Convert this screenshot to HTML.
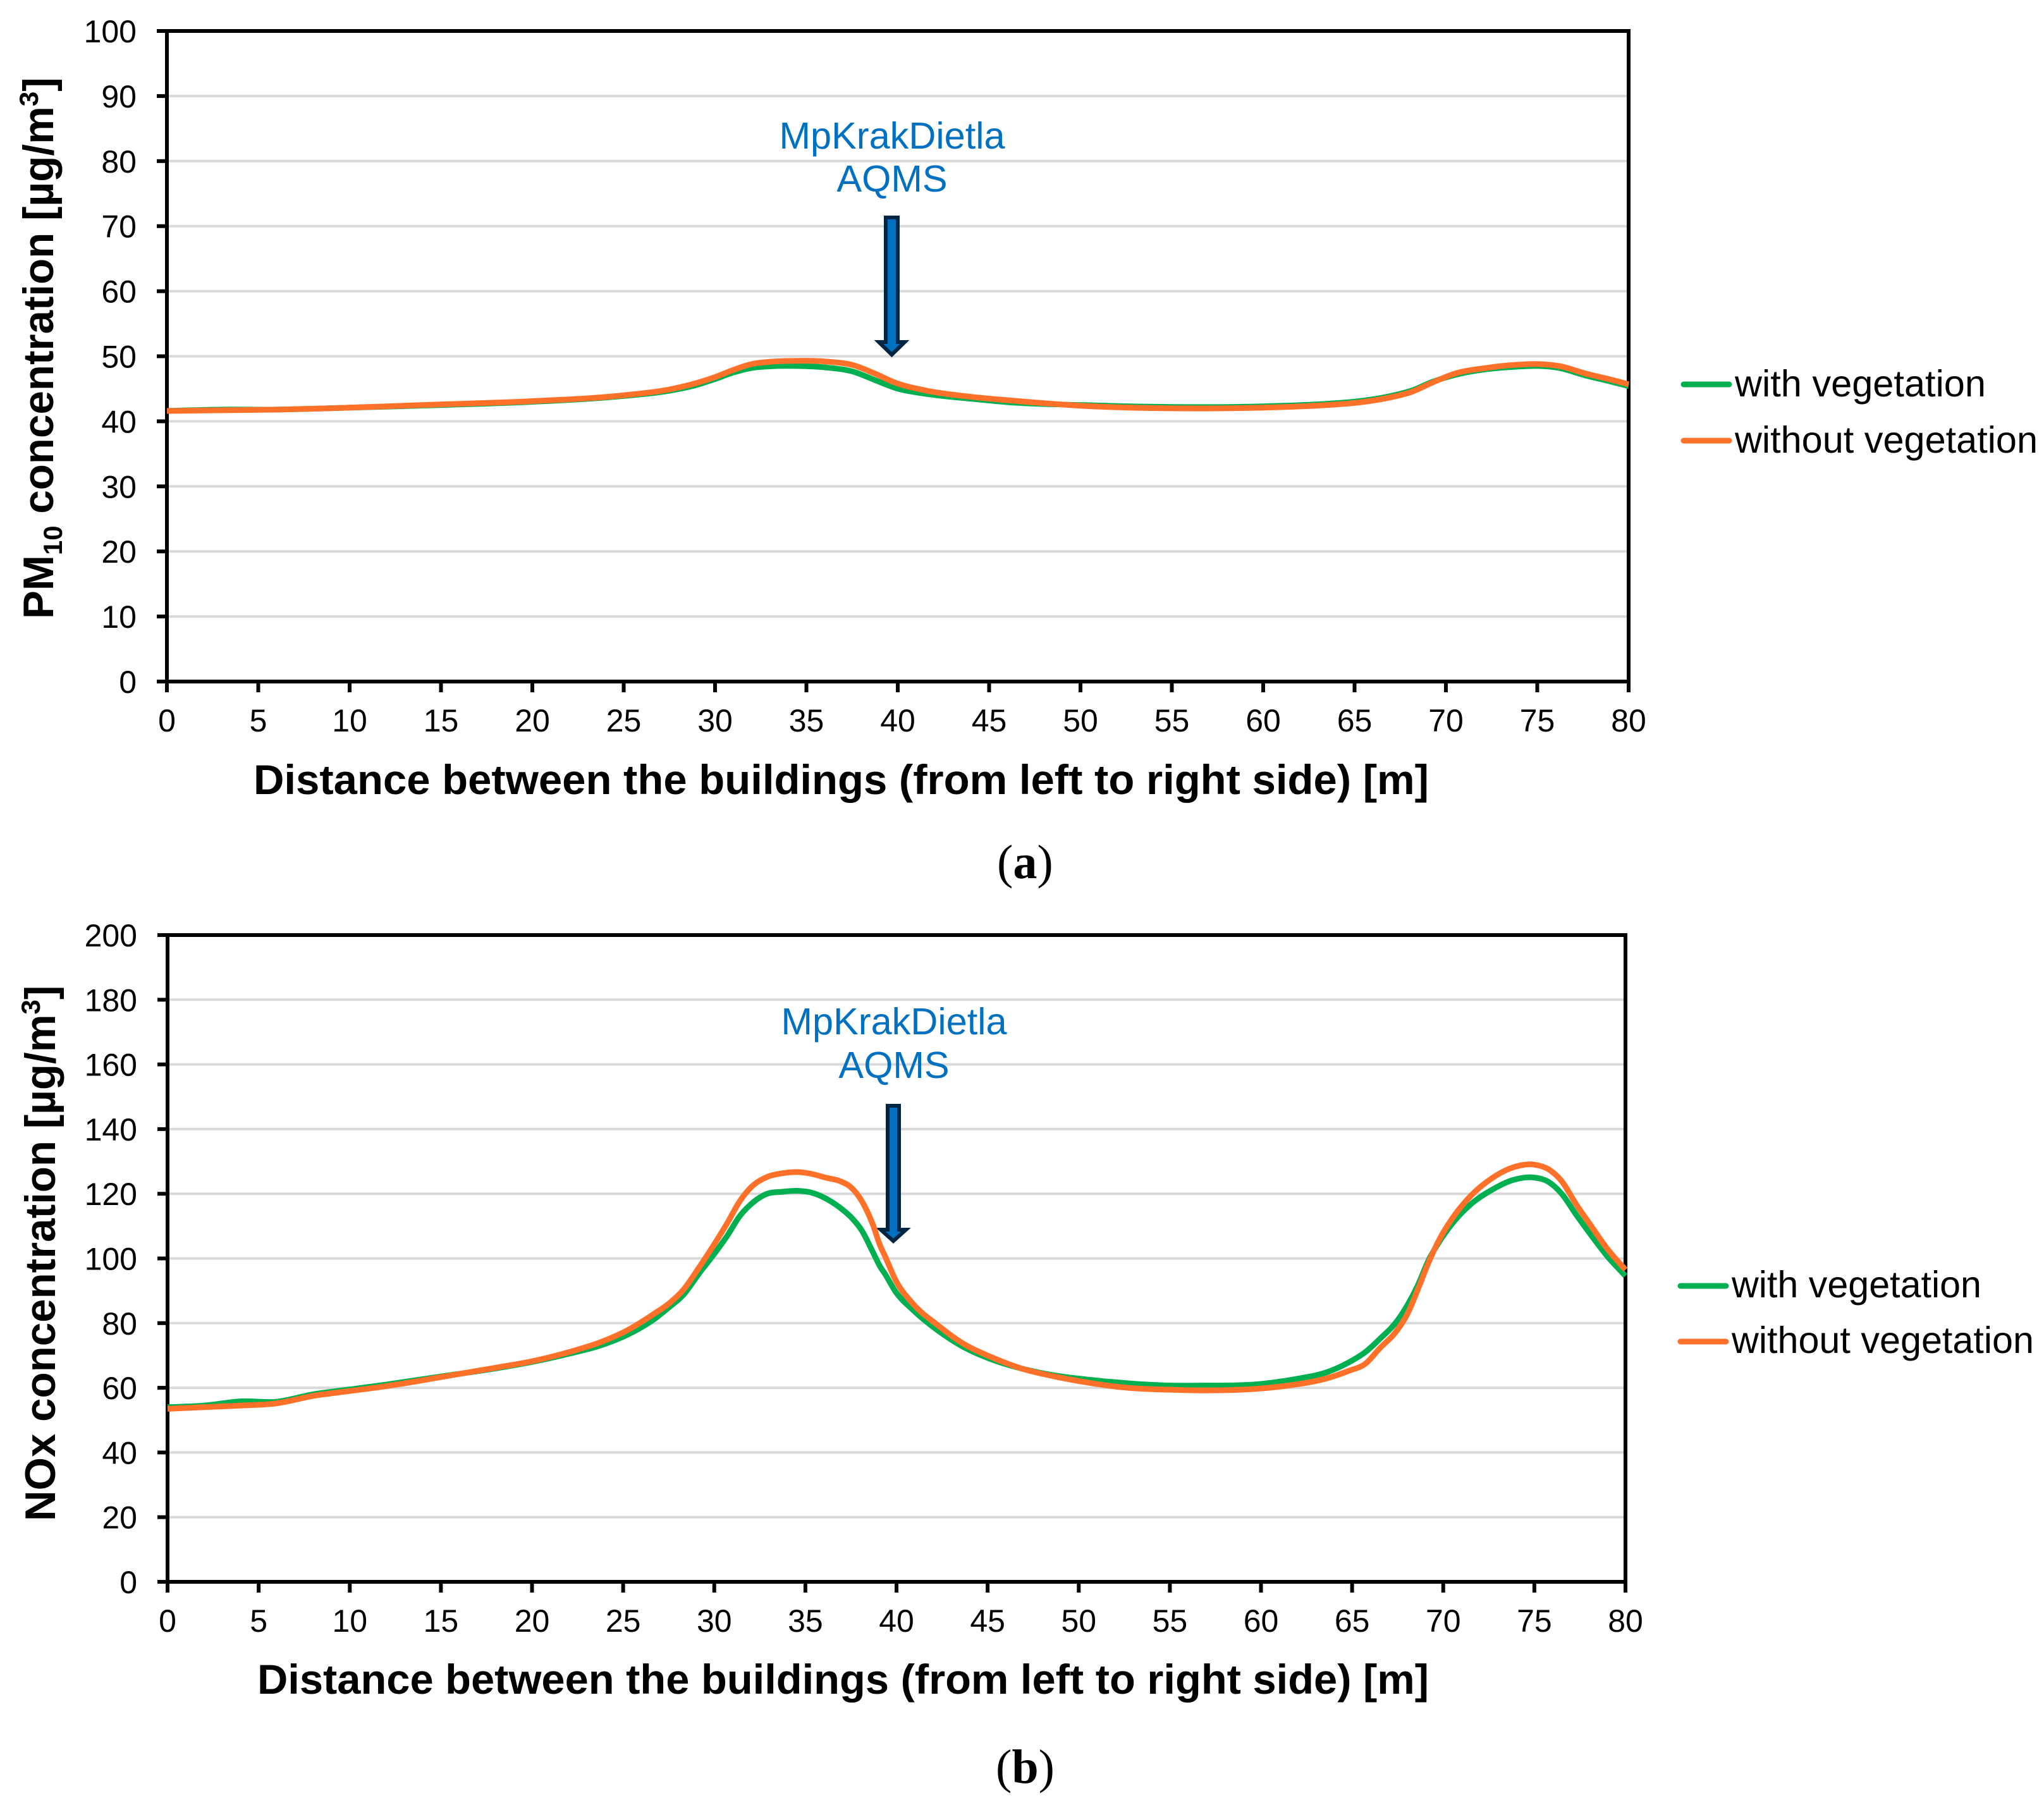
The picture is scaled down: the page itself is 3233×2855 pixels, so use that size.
<!DOCTYPE html>
<html lang="en">
<head>
<meta charset="utf-8">
<title>PM10 and NOx concentration between buildings</title>
<style>
html,body{margin:0;padding:0;background:#fff}
svg{display:block}
text{font-family:"Liberation Sans",Arial,sans-serif;fill:#000}
.caption{font-family:"Liberation Serif","Times New Roman",serif;font-size:76px}
.note{fill:#0070c0;font-size:59.5px;text-anchor:middle}
.legend{font-size:59px}
.axis-title{font-size:67.3px;font-weight:bold}
.x-title{font-size:66px;font-weight:bold}
</style>
</head>
<body>
<svg id="figure" xmlns="http://www.w3.org/2000/svg" width="3233" height="2855" viewBox="0 0 3233 2855">
  <rect x="0" y="0" width="3233" height="2855" fill="#fff"/>

  <g id="chart-a">
    <g id="a-grid"></g>
    <g id="a-axes"></g>
    <g>
      <text class="note" x="1411" y="235">MpKrakDietla</text>
      <text class="note" x="1411" y="303">AQMS</text>
      <polygon points="1401,344 1420,344 1420,541 1431,541 1410.5,561 1390,541 1401,541" fill="#0070c0" stroke="#002542" stroke-width="6"/>
    </g>
    <g id="a-series"></g>
    <text class="axis-title" transform="translate(84 979) rotate(-90)">PM<tspan font-size="42" dy="14">10</tspan><tspan dy="-14"> concentration [µg/m</tspan><tspan font-size="42" dy="-24">3</tspan><tspan dy="24">]</tspan></text>
    <text class="x-title" x="401" y="1256" textLength="1859" lengthAdjust="spacingAndGlyphs">Distance between the buildings (from left to right side) [m]</text>
    <g>
      <line x1="2663" y1="608" x2="2735" y2="608" stroke="#00b050" stroke-width="9" stroke-linecap="round"/>
      <text class="legend" x="2744" y="627" textLength="397" lengthAdjust="spacingAndGlyphs">with vegetation</text>
      <line x1="2663" y1="697" x2="2735" y2="697" stroke="#ff7029" stroke-width="9" stroke-linecap="round"/>
      <text class="legend" x="2744" y="716" textLength="479" lengthAdjust="spacingAndGlyphs">without vegetation</text>
    </g>
    <text class="caption" x="1577" y="1389">(<tspan font-weight="bold">a</tspan>)</text>
  </g>

  <g id="chart-b">
    <g id="b-grid"></g>
    <g id="b-axes"></g>
    <g>
      <text class="note" x="1414" y="1636">MpKrakDietla</text>
      <text class="note" x="1414" y="1705">AQMS</text>
      <polygon points="1404,1749 1422,1749 1422,1945 1433,1945 1413,1963 1393,1945 1404,1945" fill="#0070c0" stroke="#002542" stroke-width="6"/>
    </g>
    <g id="b-series"></g>
    <text class="axis-title" transform="translate(87 2406) rotate(-90)">NOx concentration [µg/m<tspan font-size="42" dy="-24">3</tspan><tspan dy="24">]</tspan></text>
    <text class="x-title" x="407" y="2679" textLength="1853" lengthAdjust="spacingAndGlyphs">Distance between the buildings (from left to right side) [m]</text>
    <g>
      <line x1="2658" y1="2034" x2="2730" y2="2034" stroke="#00b050" stroke-width="9" stroke-linecap="round"/>
      <text class="legend" x="2739" y="2052" textLength="395" lengthAdjust="spacingAndGlyphs">with vegetation</text>
      <line x1="2658" y1="2122" x2="2730" y2="2122" stroke="#ff7029" stroke-width="9" stroke-linecap="round"/>
      <text class="legend" x="2739" y="2140" textLength="478" lengthAdjust="spacingAndGlyphs">without vegetation</text>
    </g>
    <text class="caption" x="1575" y="2820">(<tspan font-weight="bold">b</tspan>)</text>
  </g>
</svg>

<script>
const distanceTicks = [0,5,10,15,20,25,30,35,40,45,50,55,60,65,70,75,80];
const pmTicks = [0,10,20,30,40,50,60,70,80,90,100];
const noxTicks = [0,20,40,60,80,100,120,140,160,180,200];

const pmDistance = [0,3,6,10,15,20,25,27.5,29,30,31,32,33,34.5,36,37.6,38.7,39.9,41.6,43.9,46.2,50,55,60,63.5,65.26,67,68.1,69.3,70.45,72.2,73.9,75.05,76.2,77.7,78.9,80];
const pmWithValues = [41.6,41.8,41.8,42.1,42.5,43,43.9,44.7,45.6,46.5,47.5,48.2,48.45,48.5,48.3,47.6,46.4,45.1,44.2,43.5,42.9,42.5,42.2,42.3,42.7,43.1,43.9,44.7,46.1,47.1,48,48.4,48.5,48.2,47,46.2,45.4];
const pmWithoutValues = [41.6,41.7,41.8,42.1,42.6,43.1,44,44.9,45.9,46.8,47.9,48.8,49.15,49.3,49.2,48.6,47.4,45.9,44.7,43.8,43.2,42.4,42,42.1,42.5,42.9,43.7,44.5,46,47.3,48.2,48.7,48.8,48.5,47.3,46.5,45.7];

const noxWithDistance = [0,2,4,6,8,10,12,15,18,20,22,23.76,25.3,26.7,27.5,28.3,29.2,30,30.7,31.4,32,32.9,33.7,34.6,35.3,36.1,36.9,37.5,38.1,38.7,39.1,39.37,39.95,40.9,42.3,43.65,45.2,46.9,48.6,50.4,52.7,55,56.7,60,62,63.66,64.8,65.74,66.5,67.5,68.06,68.6,69.2,69.8,70.6,71.5,72.7,73.8,75,75.8,76.5,77.3,78.1,79,80];
const noxWithValues = [54,54.5,55.8,55.7,58,59.5,61,63.5,66,68,70.5,73.1,76.6,81.2,84.8,88.7,95.6,101.4,106.9,113.1,116.7,120,120.6,120.9,120.4,118.6,115.7,112.8,108.6,102,97.5,95.2,89.7,84.1,77.6,72.7,68.8,65.9,63.9,62.6,61.4,60.7,60.7,61.2,62.8,64.9,67.8,71.1,75,80.9,85.8,91.6,99.5,105.3,111.5,116.7,121.3,124.2,125,123.6,120,113.5,107.3,100.7,94.6];
const noxWithoutDistance = [0,2,4,6,8,10,12,15,18,20,22,23.76,25.3,26.7,27.5,28.3,29.2,30,30.7,31.4,32,32.9,33.7,34.6,35.3,36.1,36.9,37.5,38.1,38.7,39.1,39.37,39.95,40.9,42.3,43.65,45.2,46.9,48.6,50.4,52.7,55,56.7,60,61.5,63.66,64.8,65.74,66.5,67.5,68.06,68.6,69.2,69.8,70.6,71.5,72.7,73.8,75,75.8,76.5,77.3,78.1,79,80];
const noxWithoutValues = [53.5,54,54.5,55.2,57.5,59,60.5,63.3,66.2,68.2,71,74.1,78,82.9,86,90.3,97.5,104.4,110.8,117.7,121.9,125.2,126.3,126.7,126.2,125,123.9,122,117.7,110.5,104,100.7,93.3,86,79.2,73.7,69.5,65.9,63.6,61.7,60,59.4,59.2,59.8,60.7,63,65.2,67.5,72.1,78,83.1,90.3,98.8,106,113.2,119.3,124.9,128.1,129,127.5,123.9,116.7,110.2,103,96.5];

const SVG_NS = 'http://www.w3.org/2000/svg';

function linearScale(d0, d1, r0, r1) {
  return function (v) { return r0 + (v - d0) * (r1 - r0) / (d1 - d0); };
}

function smoothPath(px, py) {
  const n = px.length;
  const dx = [], slope = [], tan = [];
  for (let i = 0; i < n - 1; i++) {
    dx[i] = px[i + 1] - px[i];
    slope[i] = (py[i + 1] - py[i]) / dx[i];
  }
  tan[0] = slope[0];
  tan[n - 1] = slope[n - 2];
  for (let i = 1; i < n - 1; i++) {
    tan[i] = (slope[i - 1] * dx[i] + slope[i] * dx[i - 1]) / (dx[i] + dx[i - 1]);
  }
  let d = 'M' + px[0].toFixed(2) + ' ' + py[0].toFixed(2);
  for (let i = 0; i < n - 1; i++) {
    const h = dx[i] / 3;
    d += 'C' + (px[i] + h).toFixed(2) + ' ' + (py[i] + tan[i] * h).toFixed(2) + ' ' +
      (px[i + 1] - h).toFixed(2) + ' ' + (py[i + 1] - tan[i + 1] * h).toFixed(2) + ' ' +
      px[i + 1].toFixed(2) + ' ' + py[i + 1].toFixed(2);
  }
  return d;
}

function drawChart(id, prefix, box, yMax, yTicks, xTicks, series) {
  const xScale = linearScale(0, 80, box.left, box.right);
  const yScale = linearScale(0, yMax, box.bottom, box.top);
  const grid = document.getElementById(id + '-grid');
  const axes = document.getElementById(id + '-axes');
  const seriesLayer = document.getElementById(id + '-series');

  yTicks.forEach(function (t) {
    const y = yScale(t);
    if (t !== 0 && t !== yMax) {
      const g = document.createElementNS(SVG_NS, 'line');
      
      
      g.setAttribute('x1', box.left);
      g.setAttribute('x2', box.right);
      g.setAttribute('y1', y);
      g.setAttribute('y2', y);
      g.setAttribute('stroke', '#d9d9d9');
      g.setAttribute('stroke-width', '4');
      grid.appendChild(g);
    }
    const tick = document.createElementNS(SVG_NS, 'line');
    
    
    tick.setAttribute('x1', box.left - 16);
    tick.setAttribute('x2', box.left);
    tick.setAttribute('y1', y);
    tick.setAttribute('y2', y);
    tick.setAttribute('stroke', '#000');
    tick.setAttribute('stroke-width', '6');
    axes.appendChild(tick);
    const label = document.createElementNS(SVG_NS, 'text');
    
    
    label.setAttribute('x', box.left - 48);
    label.setAttribute('y', y + 18);
    label.setAttribute('text-anchor', 'end');
    label.setAttribute('font-size', '50');
    label.textContent = t;
    axes.appendChild(label);
  });

  xTicks.forEach(function (t) {
    const x = xScale(t);
    const tick = document.createElementNS(SVG_NS, 'line');
    
    
    tick.setAttribute('x1', x);
    tick.setAttribute('x2', x);
    tick.setAttribute('y1', box.bottom);
    tick.setAttribute('y2', box.bottom + 17);
    tick.setAttribute('stroke', '#000');
    tick.setAttribute('stroke-width', '6');
    axes.appendChild(tick);
    const label = document.createElementNS(SVG_NS, 'text');
    
    
    label.setAttribute('x', x);
    label.setAttribute('y', box.bottom + 79);
    label.setAttribute('text-anchor', 'middle');
    label.setAttribute('font-size', '50');
    label.textContent = t;
    axes.appendChild(label);
  });

  const frame = document.createElementNS(SVG_NS, 'rect');
  
  
  frame.setAttribute('x', box.left);
  frame.setAttribute('y', box.top);
  frame.setAttribute('width', box.right - box.left);
  frame.setAttribute('height', box.bottom - box.top);
  frame.setAttribute('fill', 'none');
  frame.setAttribute('stroke', '#000');
  frame.setAttribute('stroke-width', '6');
  axes.appendChild(frame);

  series.forEach(function (s) {
    const p = document.createElementNS(SVG_NS, 'path');
    
    
    p.setAttribute('d', smoothPath(s.x.map(xScale), s.y.map(yScale)));
    p.setAttribute('fill', 'none');
    p.setAttribute('stroke', s.color);
    p.setAttribute('stroke-width', '9');
    p.setAttribute('stroke-linejoin', 'round');
    seriesLayer.appendChild(p);
  });
}

drawChart('a', 'pm10', {left: 264, right: 2576, top: 49, bottom: 1078}, 100, pmTicks, distanceTicks, [
  {name: 'with-vegetation', color: '#00b050', x: pmDistance, y: pmWithValues},
  {name: 'without-vegetation', color: '#ff7029', x: pmDistance, y: pmWithoutValues}
]);
drawChart('b', 'nox', {left: 265, right: 2571, top: 1479, bottom: 2502}, 200, noxTicks, distanceTicks, [
  {name: 'with-vegetation', color: '#00b050', x: noxWithDistance, y: noxWithValues},
  {name: 'without-vegetation', color: '#ff7029', x: noxWithoutDistance, y: noxWithoutValues}
]);
</script>
</body>
</html>
